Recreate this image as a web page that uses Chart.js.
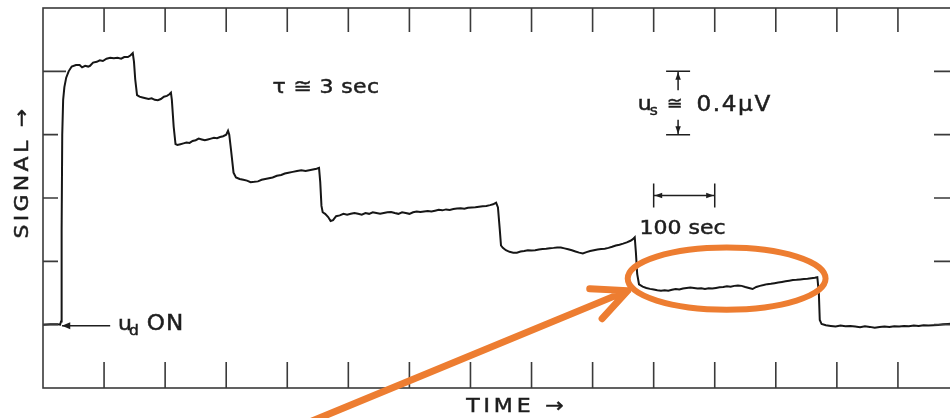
<!DOCTYPE html>
<html lang="en">
<head>
<meta charset="UTF-8">
<title>Signal vs time</title>
<script src="https://cdn.jsdelivr.net/npm/chart.js"></script>
<style>
  html, body { margin: 0; padding: 0; background: #fff; overflow: hidden; }
  #wrap { position: relative; width: 980px; height: 418px; }
</style>
</head>
<body>
<div id="wrap"><canvas id="signalChart"></canvas></div>
<script>
// time in seconds (one tick = 100 sec), signal in microvolts (one tick = 0.4 uV)
const timeSec = [
  // baseline, u_d ON, first level
  0, 12, 24, 28, 29.5, 30.5, 31.5, 33, 35, 38, 42, 47, 54, 60, 64, 69, 74, 77, 82, 88, 93, 98, 104, 110, 116, 122, 128, 133, 139, 143, 147,
  // second level
  149, 151, 154, 158, 163, 168, 173, 178, 183, 188, 193, 198, 203, 207, 209.5,
  // third level
  211, 214, 217, 220, 225, 230, 235, 240, 245, 250, 255, 260, 265, 270, 275, 280, 285, 290, 295, 300, 303,
  // fourth level
  305, 308, 312, 316, 322, 328, 334, 340, 346, 352, 358, 364, 370, 376, 383, 390, 396, 402, 409, 416, 423, 430, 436, 442, 448, 452,
  // fifth level
  454, 456, 458, 462, 467, 471, 475, 480,
  486, 492, 498, 504, 510, 516, 522, 528, 534, 540,
  546, 552, 558, 564, 570, 576, 582, 588, 594, 600,
  606, 612, 618, 624, 630, 636, 642, 648, 654, 660,
  666, 672, 678, 684, 690, 696, 702, 708, 714, 720,
  726, 732, 737, 742,
  // sixth level
  745, 748, 750, 753, 758,
  764, 770, 776, 782, 788, 794, 800, 806, 812, 818,
  824, 830, 836, 842, 848, 854, 860, 866, 872, 878,
  884, 890, 896, 902, 908, 914, 920, 926, 932, 938,
  944, 950, 956, 962, 966, 969,
  // seventh level (circled)
  971, 973, 976,
  982, 988, 994, 1000, 1006, 1012, 1018, 1024, 1030, 1036,
  1042, 1048, 1054, 1060, 1066, 1072, 1078, 1084, 1090, 1096,
  1102, 1108, 1114, 1120, 1126, 1132, 1138, 1144, 1150, 1156,
  1162, 1168, 1174, 1180, 1186, 1192, 1198, 1204, 1210, 1216,
  1222, 1228, 1234, 1240, 1246, 1252, 1258, 1264, 1268,
  // back to baseline
  1270.5, 1272, 1275,
  1282, 1290, 1298, 1306, 1314, 1322, 1330, 1338, 1346, 1354,
  1362, 1370, 1378, 1386, 1394, 1402, 1410, 1418, 1426, 1434,
  1442, 1450, 1458, 1466, 1474, 1482, 1490
];
const signalMicroV = [
  0, 0.003, 0.002, 0, 0.02, 0.6, 1.2, 1.42, 1.5, 1.56, 1.6, 1.63, 1.64, 1.64, 1.625, 1.635, 1.63, 1.635, 1.655, 1.66, 1.67, 1.665, 1.68, 1.685, 1.682, 1.685, 1.68, 1.69, 1.69, 1.7, 1.715,
  1.66, 1.55, 1.45, 1.44, 1.435, 1.43, 1.425, 1.43, 1.42, 1.418, 1.425, 1.44, 1.445, 1.455, 1.465,
  1.42, 1.25, 1.14, 1.135, 1.14, 1.145, 1.15, 1.148, 1.16, 1.165, 1.175, 1.17, 1.165, 1.17, 1.175, 1.18, 1.178, 1.185, 1.19, 1.2, 1.225,
  1.2, 1.1, 0.96, 0.93, 0.92, 0.915, 0.91, 0.9, 0.902, 0.905, 0.915, 0.92, 0.925, 0.93, 0.94, 0.945, 0.955, 0.96, 0.965, 0.97, 0.975, 0.97, 0.975, 0.98, 0.985, 0.99,
  0.9, 0.75, 0.71, 0.7, 0.68, 0.655, 0.66, 0.685,
  0.69, 0.7, 0.695, 0.7, 0.705, 0.7, 0.695, 0.705, 0.7, 0.71,
  0.705, 0.7, 0.705, 0.71, 0.712, 0.705, 0.7, 0.71, 0.705, 0.7,
  0.71, 0.715, 0.712, 0.715, 0.718, 0.715, 0.72, 0.725, 0.722, 0.728,
  0.725, 0.73, 0.733, 0.735, 0.732, 0.738, 0.74, 0.742, 0.745, 0.748,
  0.75, 0.755, 0.76, 0.77,
  0.74, 0.6, 0.5, 0.485, 0.47,
  0.46, 0.455, 0.455, 0.462, 0.465, 0.47, 0.468, 0.47, 0.475, 0.478,
  0.48, 0.483, 0.485, 0.488, 0.487, 0.482, 0.476, 0.47, 0.462, 0.455,
  0.45, 0.458, 0.465, 0.47, 0.475, 0.478, 0.48, 0.485, 0.492, 0.5,
  0.505, 0.512, 0.52, 0.53, 0.54, 0.552,
  0.45, 0.32, 0.255,
  0.24, 0.232, 0.226, 0.222, 0.218, 0.215, 0.218, 0.214, 0.22, 0.225,
  0.222, 0.228, 0.232, 0.235, 0.232, 0.228, 0.23, 0.226, 0.23, 0.228,
  0.232, 0.236, 0.238, 0.242, 0.24, 0.245, 0.248, 0.245, 0.238, 0.232,
  0.225, 0.238, 0.245, 0.25, 0.256, 0.258, 0.262, 0.266, 0.27, 0.274,
  0.278, 0.282, 0.283, 0.286, 0.288, 0.29, 0.293, 0.296, 0.3,
  0.2, 0.03, 0.004,
  -0.004, -0.008, -0.012, -0.006, -0.01, -0.008, -0.012, -0.016, -0.01, -0.014,
  -0.02, -0.015, -0.012, -0.015, -0.01, -0.012, -0.008, -0.01, -0.006, -0.008,
  -0.004, -0.006, -0.003, -0.002, 0.002, 0.005, 0.008
];

const timeTicks = [100, 200, 300, 400, 500, 600, 700, 800, 900, 1000, 1100, 1200, 1300, 1400];
const signalTicks = [0, 0.4, 0.8, 1.2, 1.6];

const ink = '#1e1e1e';
const orange = '#ED7D31';

function drawText(ctx, str, px, py, size, align, spacing, sx) {
  ctx.save();
  ctx.translate(px, py);
  ctx.scale(sx || 1.1, 1);
  ctx.font = size + 'px "DejaVu Sans"';
  ctx.letterSpacing = (spacing == null ? 1 : spacing) + 'px';
  ctx.textAlign = align || 'left';
  ctx.textBaseline = 'middle';
  ctx.fillStyle = ink;
  ctx.strokeStyle = ink;
  ctx.lineWidth = 0.5;
  ctx.fillText(str, 0, 0);
  ctx.strokeText(str, 0, 0);
  ctx.restore();
}

function arrowHead(ctx, tipX, tipY, angle, len, spread) {
  ctx.beginPath();
  ctx.moveTo(tipX + len * Math.cos(angle + spread), tipY + len * Math.sin(angle + spread));
  ctx.lineTo(tipX, tipY);
  ctx.lineTo(tipX + len * Math.cos(angle - spread), tipY + len * Math.sin(angle - spread));
  ctx.closePath();
  ctx.fill();
}

const frameAndNotes = {
  id: 'frameAndNotes',
  afterDatasetsDraw(chart) {
    const { ctx, chartArea: a, scales: { x, y } } = chart;
    ctx.save();

    // frame with inward ticks
    ctx.strokeStyle = '#3a3a3a';
    ctx.lineWidth = 1.6;
    ctx.strokeRect(a.left, a.top, a.right - a.left, a.bottom - a.top);
    ctx.beginPath();
    timeTicks.forEach(t => {
      const px = x.getPixelForValue(t);
      ctx.moveTo(px, a.top); ctx.lineTo(px, a.top + 24);
      ctx.moveTo(px, a.bottom); ctx.lineTo(px, a.bottom - 26);
    });
    signalTicks.forEach((v, i) => {
      const py = y.getPixelForValue(v);
      ctx.moveTo(a.left, py); ctx.lineTo(a.left + (i === signalTicks.length - 1 ? 23 : 15), py);
      ctx.moveTo(a.right, py); ctx.lineTo(a.right - 25, py);
    });
    ctx.stroke();

    // axis titles
    ctx.save();
    ctx.translate(a.left - 20, (a.top + a.bottom) / 2 - 26);
    ctx.rotate(-Math.PI / 2);
    drawText(ctx, 'SIGNAL \u2192', 0, 0, 20, 'center', 3);
    ctx.restore();
    drawText(ctx, 'TIME \u2192', x.getPixelForValue(776), a.bottom + 19, 20, 'center', 3.5);

    // tau label
    drawText(ctx, '\u03C4 \u2245 3 sec', x.getPixelForValue(376), y.getPixelForValue(1.494), 20, 'left', 0.3);

    ctx.strokeStyle = ink;
    ctx.fillStyle = ink;
    ctx.lineWidth = 1.5;

    // u_s scale bar (0.4 uV)
    const bx = x.getPixelForValue(1040);
    const bTop = y.getPixelForValue(1.6), bBot = y.getPixelForValue(1.2);
    ctx.beginPath();
    ctx.moveTo(bx - 12, bTop); ctx.lineTo(bx + 12, bTop);
    ctx.moveTo(bx - 12, bBot); ctx.lineTo(bx + 12, bBot);
    ctx.moveTo(bx, bTop); ctx.lineTo(bx, bTop + 19);
    ctx.moveTo(bx, bBot); ctx.lineTo(bx, bBot - 15);
    ctx.stroke();
    arrowHead(ctx, bx, bTop + 1, Math.PI / 2, 8, 0.35);
    arrowHead(ctx, bx, bBot - 1, -Math.PI / 2, 8, 0.35);
    const uy = y.getPixelForValue(1.386);
    drawText(ctx, 'u', x.getPixelForValue(974), uy, 20, 'left');
    drawText(ctx, 's', x.getPixelForValue(974) + 12, uy + 6, 14, 'left');
    drawText(ctx, '\u2245', bx - 3, uy - 1, 17, 'center');
    drawText(ctx, '0.4\u03BCV', x.getPixelForValue(1070), uy, 21, 'left', 1.5);

    // 100 sec bar
    const hx0 = x.getPixelForValue(1000), hx1 = x.getPixelForValue(1100);
    const hy = y.getPixelForValue(0.816);
    ctx.beginPath();
    ctx.moveTo(hx0, hy - 12); ctx.lineTo(hx0, hy + 12);
    ctx.moveTo(hx1, hy - 12); ctx.lineTo(hx1, hy + 12);
    ctx.moveTo(hx0, hy); ctx.lineTo(hx1, hy);
    ctx.stroke();
    arrowHead(ctx, hx0 + 1, hy, 0, 8, 0.35);
    arrowHead(ctx, hx1 - 1, hy, Math.PI, 8, 0.35);
    drawText(ctx, '100 sec', x.getPixelForValue(977), y.getPixelForValue(0.608), 20, 'left', 0);

    // u_d ON marker
    const oy = y.getPixelForValue(0);
    ctx.beginPath();
    ctx.moveTo(x.getPixelForValue(31), oy + 1); ctx.lineTo(x.getPixelForValue(110), oy + 1);
    ctx.stroke();
    arrowHead(ctx, x.getPixelForValue(31), oy + 1, 0, 9, 0.4);
    drawText(ctx, 'u', x.getPixelForValue(123), oy, 20, 'left');
    drawText(ctx, 'd', x.getPixelForValue(123) + 11, oy + 7, 14, 'left');
    drawText(ctx, 'ON', x.getPixelForValue(170), oy, 21, 'left');

    // orange highlight: ellipse round the seventh level and a pointing arrow
    ctx.strokeStyle = orange;
    ctx.lineCap = 'round';
    ctx.lineJoin = 'round';
    ctx.lineWidth = 6;
    const ex = x.getPixelForValue(1119.5), ey = y.getPixelForValue(0.291);
    const erx = x.getPixelForValue(1119.5 + 162) - ex;
    const ery = ey - y.getPixelForValue(0.291 + 0.196);
    ctx.beginPath();
    ctx.ellipse(ex, ey, erx, ery, 0, 0, Math.PI * 2);
    ctx.stroke();

    const tipX = x.getPixelForValue(957.5), tipY = y.getPixelForValue(0.215);
    const tailX = x.getPixelForValue(358), tailY = y.getPixelForValue(-0.74);
    const ang = Math.atan2(tailY - tipY, tailX - tipX);
    ctx.lineWidth = 7;
    ctx.beginPath();
    ctx.moveTo(tailX, tailY); ctx.lineTo(tipX, tipY);
    ctx.moveTo(tipX + 38 * Math.cos(ang + 0.44), tipY + 38 * Math.sin(ang + 0.44));
    ctx.lineTo(tipX, tipY);
    ctx.lineTo(tipX + 38 * Math.cos(ang - 0.44), tipY + 38 * Math.sin(ang - 0.44));
    ctx.stroke();

    ctx.restore();
  }
};

new Chart(document.getElementById('signalChart'), {
  type: 'line',
  data: {
    datasets: [{
      data: timeSec.map((t, i) => ({ x: t, y: signalMicroV[i] })),
      borderColor: '#161616',
      borderWidth: 2,
      pointRadius: 0,
      tension: 0,
      fill: false
    }]
  },
  options: {
    responsive: true,
    maintainAspectRatio: false,
    animation: false,
    layout: { padding: { left: 43, top: 8, right: 21, bottom: 30 } },
    plugins: { legend: { display: false }, tooltip: { enabled: false } },
    scales: {
      x: { type: 'linear', min: 0, max: 1500, display: false },
      y: { min: -0.4, max: 2.0, display: false }
    }
  },
  plugins: [frameAndNotes]
});
</script>
</body>
</html>
